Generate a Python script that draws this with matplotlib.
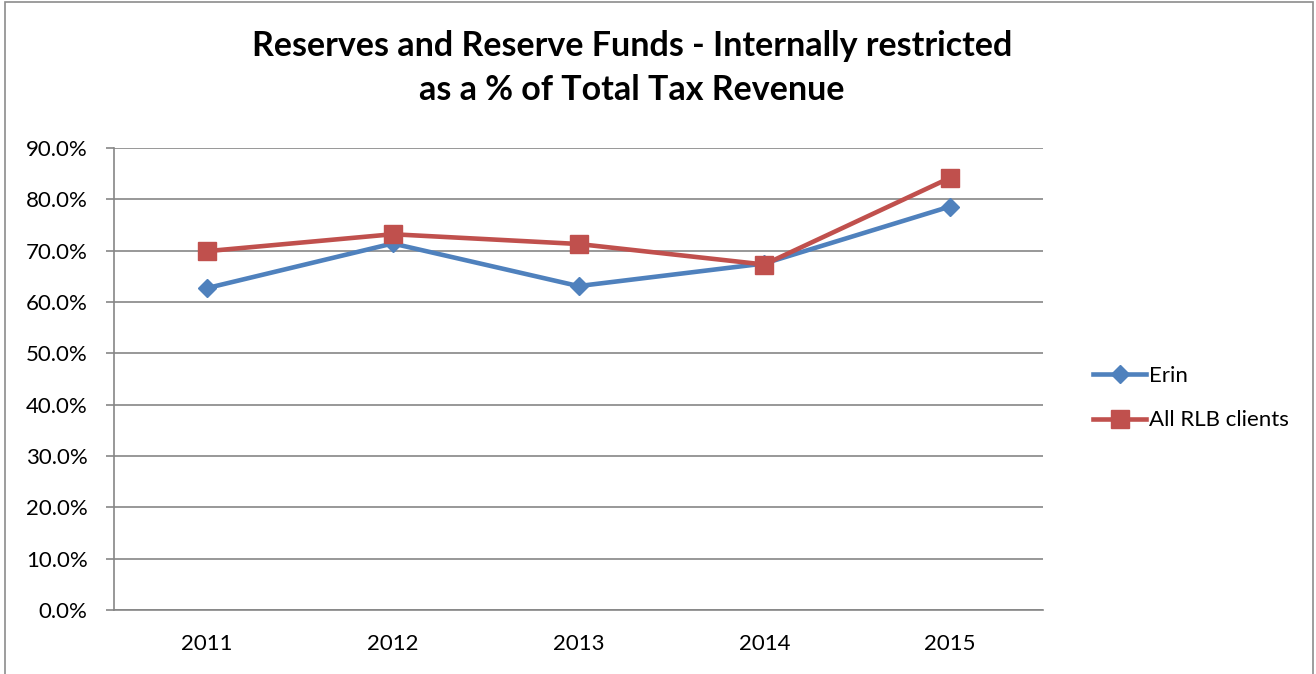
import matplotlib.pyplot as plt
from matplotlib.patches import Rectangle
from matplotlib.ticker import FuncFormatter

years = ['2011', '2012', '2013', '2014', '2015']
erin = [62.7, 71.4, 63.1, 67.5, 78.6]
rlb_clients = [69.9, 73.2, 71.3, 67.3, 84.2]

plt.rcParams['font.family'] = ['Lato', 'DejaVu Sans']

fig = plt.figure(figsize=(13.16, 6.74), dpi=100)
W, H = 1316, 674

# outer chart frame
fig.patches.append(Rectangle((5 / W, -0.01), (1313 - 5) / W, (H - 2) / H + 0.01,
                             transform=fig.transFigure, fill=False,
                             edgecolor='#8c8c8c', linewidth=1.2))

ax = fig.add_axes([114 / W, 1 - 610 / H, (1043 - 114) / W, (610 - 148) / H])

x = list(range(len(years)))
ax.plot(x, erin, color='#4F81BD', linewidth=3.3, marker='D', markersize=9.5,
        label='Erin', solid_joinstyle='round')
ax.plot(x, rlb_clients, color='#C0504D', linewidth=3.3, marker='s', markersize=13,
        label='All RLB clients', solid_joinstyle='round')

ax.set_xlim(-0.5, len(years) - 0.5)
ax.set_ylim(0, 90)
ax.set_yticks(range(0, 91, 10))
ax.yaxis.set_major_formatter(FuncFormatter(lambda v, p: f'{v:.1f}%'))
ax.set_xticks(x)
ax.set_xticklabels(years)
ax.grid(axis='y', color='#868686', linewidth=1.2)
ax.set_axisbelow(True)

for side in ['top', 'right']:
    ax.spines[side].set_visible(False)
for side in ['left', 'bottom']:
    ax.spines[side].set_color('#868686')
    ax.spines[side].set_linewidth(1.2)

ax.tick_params(axis='y', length=6, width=1.2, color='#868686', labelsize=16, pad=13)
ax.tick_params(axis='x', length=0, labelsize=16, pad=17)

fig.text(632 / W, 1 - 68 / H, 'Reserves and Reserve Funds - Internally restricted\nas a % of Total Tax Revenue',
         ha='center', va='center', fontsize=24.5, fontweight='bold', linespacing=1.45)

fig.legend(loc='upper left', bbox_to_anchor=(1073 / W, 1 - 346 / H), frameon=False,
           fontsize=16, handlelength=2.4, handletextpad=0.1, labelspacing=1.1)

fig.savefig('out.png', dpi=100)
